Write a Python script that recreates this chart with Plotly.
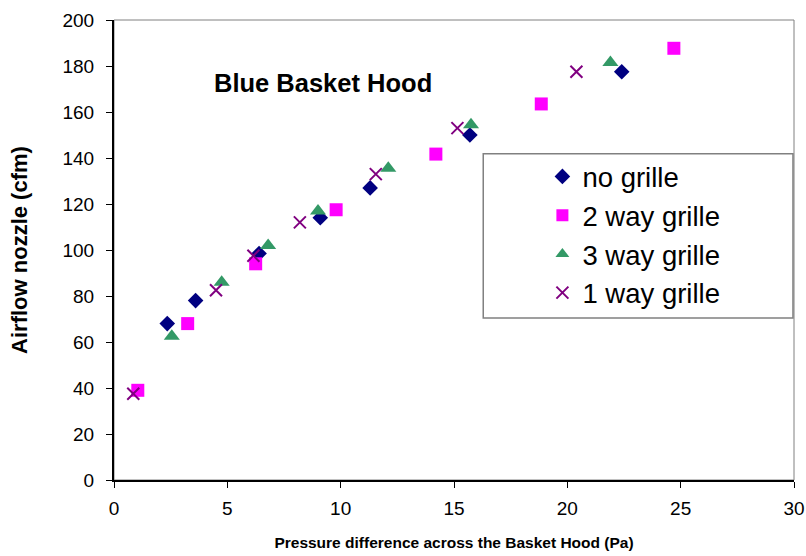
import plotly.graph_objects as go

no_grille_x = [2.35, 3.6, 6.4, 9.1, 11.3, 15.7, 22.4]
no_grille_y = [68, 78, 98.5, 114, 127, 150, 177.5]

two_way_x = [1.05, 3.25, 6.25, 9.8, 14.2, 18.85, 24.7]
two_way_y = [39, 68, 94, 117.5, 141.7, 163.5, 187.7]

three_way_x = [2.55, 4.75, 6.8, 9.0, 12.1, 15.75, 21.9]
three_way_y = [62.5, 86, 102, 117, 135.5, 154.5, 181.5]

one_way_x = [0.85, 4.5, 6.15, 8.2, 11.55, 15.15, 20.4]
one_way_y = [37.5, 82.5, 97.5, 112, 133, 153, 177.5]

x_ticks = [0, 5, 10, 15, 20, 25, 30]
y_ticks = [0, 20, 40, 60, 80, 100, 120, 140, 160, 180, 200]

fig = go.Figure()
fig.add_trace(go.Scatter(x=no_grille_x, y=no_grille_y, mode="markers", name="no grille",
                         marker=dict(symbol="diamond", size=12, color="#000080")))
fig.add_trace(go.Scatter(x=two_way_x, y=two_way_y, mode="markers", name="2 way grille",
                         marker=dict(symbol="square", size=13, color="#FF00FF")))
fig.add_trace(go.Scatter(x=three_way_x, y=three_way_y, mode="markers", name="3 way grille",
                         marker=dict(symbol="triangle-up", size=14, color="#339966")))
fig.add_trace(go.Scatter(x=one_way_x, y=one_way_y, mode="markers", name="1 way grille",
                         marker=dict(symbol="x-thin-open", size=12, color="#800080",
                                     line=dict(width=2, color="#800080"))))

font_family = "Liberation Sans, Arial, sans-serif"

fig.update_layout(
    width=806, height=556,
    margin=dict(l=114, r=12, t=20, b=76, autoexpand=False),
    paper_bgcolor="white", plot_bgcolor="white",
    font=dict(family=font_family, color="black", size=19),
    showlegend=True,
    legend=dict(x=0.630, y=0.713, xanchor="left", yanchor="top",
                borderwidth=0, bgcolor="rgba(0,0,0,0)",
                font=dict(size=27.5, family=font_family),
                itemsizing="constant", tracegroupgap=0),
    xaxis=dict(range=[0, 30], tickvals=x_ticks, ticks="outside", ticklen=6,
               tickwidth=1, tickcolor="black", showline=True, linecolor="black",
               linewidth=2, showgrid=False, zeroline=False, automargin=False,
               tickfont=dict(size=19), ticklabelstandoff=4,
               title=dict(text="<b>Pressure difference across the Basket Hood (Pa)</b>",
                          font=dict(size=15.5), standoff=19)),
    yaxis=dict(range=[0, 200], tickvals=y_ticks, ticks="outside", ticklen=6,
               tickwidth=1, tickcolor="black", showline=True, linecolor="black",
               linewidth=2, showgrid=False, zeroline=False, automargin=False,
               tickfont=dict(size=19), ticklabelstandoff=8,
               title=dict(text="<b>Airflow nozzle (cfm)</b>", font=dict(size=22),
                          standoff=29)),
    shapes=[dict(type="rect", xref="paper", yref="paper", x0=0, y0=0, x1=1, y1=1,
                 line=dict(color="#808080", width=1), layer="below"),
            dict(type="rect", xref="paper", yref="paper", x0=0.543, y0=0.352, x1=0.9985, y1=0.709,
                 line=dict(color="#808080", width=1.5), fillcolor="white", layer="above")],
    annotations=[dict(text="<b>Blue Basket Hood</b>", xref="paper", yref="paper",
                      x=0.307, y=0.863, xanchor="center", yanchor="middle", showarrow=False,
                      font=dict(size=25.5, family=font_family))],
)

fig.write_html("out.html", config={"displayModeBar": False},
               post_script="document.body.style.margin='0';")
